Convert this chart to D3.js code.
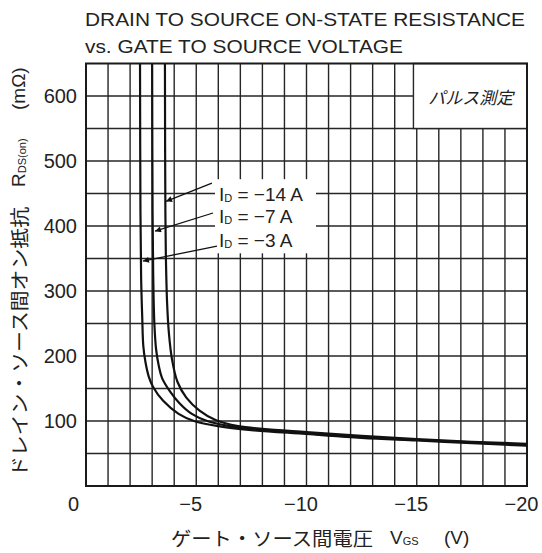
<!DOCTYPE html>
<html>
<head>
<meta charset="utf-8">
<script src="https://d3js.org/d3.v7.min.js"></script>
<style>
  body { margin: 0; background: #fff; }
  text { font-family: "Liberation Sans", Arial, sans-serif; fill: #222; }
  .jp { font-family: "Noto Sans CJK JP", sans-serif; }
</style>
</head>
<body>
<script>
// curves: Vgs (V) and RDS(on) (mOhm)
var vgs3  = [-2.45, -2.47, -2.5, -2.55, -2.6, -2.7, -2.85, -3.05, -3.5, -4.2, -4.9, -6, -7.5, -10, -12.5, -15, -17.5, -20];
var rds3  = [650, 420, 320, 260, 215, 190, 168, 152, 131, 111, 100, 92, 86, 80, 74, 70, 66, 62];
var vgs7  = [-3.0, -3.02, -3.05, -3.1, -3.18, -3.3, -3.45, -3.8, -4.25, -4.8, -5.5, -6.4, -8, -10, -12.5, -15, -17.5, -20];
var rds7  = [650, 420, 320, 250, 210, 185, 166, 146, 127, 111, 100, 93, 87, 81, 75, 71, 67, 63];
var vgs14 = [-3.58, -3.6, -3.63, -3.68, -3.76, -3.9, -4.15, -4.55, -5.15, -5.9, -6.9, -8, -10, -12.5, -15, -17.5, -20];
var rds14 = [650, 420, 340, 280, 235, 195, 160, 136, 116, 101, 92, 88, 83, 77, 72, 68, 65];

// ticks
var xTicks = [0, -5, -10, -15, -20];
var yTicks = [100, 200, 300, 400, 500, 600];

// labels + leader lines (data units)
var idLabels = ["−14 A", "−7 A", "−3 A"];
var labelR   = [449, 415, 378];
var leadFromV = [-5.71, -5.76, -5.94];
var leadFromR = [466, 420, 369];
var tipV = [-3.63, -3.13, -2.58];
var tipR = [438, 392, 346];

var W = 542, H = 553;
var pLeft = 86, pRight = 527, pTop = 63.5, pBottom = 486;

var svg = d3.select("body").append("svg")
  .attr("width", W).attr("height", H);

var x = d3.scaleLinear().domain([0, -20]).range([pLeft, pRight]);
var y = d3.scaleLinear().domain([0, 650]).range([pBottom, pTop]);

// title
svg.append("text").attr("x", 85).attr("y", 26)
  .attr("font-size", 19).attr("textLength", 440).attr("lengthAdjust", "spacingAndGlyphs")
  .text("DRAIN TO SOURCE ON-STATE RESISTANCE");
svg.append("text").attr("x", 85).attr("y", 53)
  .attr("font-size", 19).attr("textLength", 318).attr("lengthAdjust", "spacingAndGlyphs")
  .text("vs. GATE TO SOURCE VOLTAGE");

// grid
var grid = svg.append("g").attr("stroke", "#262626").attr("stroke-width", 1.4);
grid.selectAll(".gv").data(d3.range(-1, -20, -1)).enter().append("line")
  .attr("x1", d => x(d)).attr("x2", d => x(d))
  .attr("y1", y(650)).attr("y2", y(0));
grid.selectAll(".gh").data(d3.range(50, 650, 50)).enter().append("line")
  .attr("x1", x(0)).attr("x2", x(-20))
  .attr("y1", d => y(d)).attr("y2", d => y(d));

// "pulse measurement" box
svg.append("rect")
  .attr("x", x(-14.85)).attr("y", y(650))
  .attr("width", x(-20) - x(-14.85)).attr("height", y(550) - y(650))
  .attr("fill", "#fff").attr("stroke", "#262626").attr("stroke-width", 1.4);
svg.append("text").attr("class", "jp")
  .attr("x", x(-17.45)).attr("y", y(600))
  .attr("text-anchor", "middle").attr("dominant-baseline", "central")
  .attr("font-size", 17).attr("font-style", "italic")
  .text("パルス測定");

// white area behind the ID labels
svg.append("rect")
  .attr("x", x(-5.85)).attr("y", y(472))
  .attr("width", x(-10.43) - x(-5.85)).attr("height", y(358) - y(472))
  .attr("fill", "#fff");

// frame
svg.append("rect")
  .attr("x", pLeft).attr("y", pTop)
  .attr("width", pRight - pLeft).attr("height", pBottom - pTop)
  .attr("fill", "none").attr("stroke", "#1a1a1a").attr("stroke-width", 2);

// curves
svg.append("clipPath").attr("id", "clip").append("rect")
  .attr("x", pLeft).attr("y", pTop).attr("width", pRight - pLeft).attr("height", pBottom - pTop);

var line = d3.line()
  .x(d => x(d[0])).y(d => y(d[1]))
  .curve(d3.curveCatmullRom.alpha(0.5));

[[vgs3, rds3], [vgs7, rds7], [vgs14, rds14]].forEach(function (s) {
  svg.append("path")
    .datum(d3.zip(s[0], s[1]))
    .attr("clip-path", "url(#clip)")
    .attr("fill", "none").attr("stroke", "#111").attr("stroke-width", 2.2)
    .attr("d", line);
});

// leader lines with arrowheads
svg.append("defs").append("marker")
  .attr("id", "arr").attr("viewBox", "0 0 10 10")
  .attr("refX", 10).attr("refY", 5)
  .attr("markerWidth", 9).attr("markerHeight", 6)
  .attr("markerUnits", "userSpaceOnUse")
  .attr("orient", "auto")
  .append("path").attr("d", "M0,0 L10,5 L0,10 Z").attr("fill", "#111");

idLabels.forEach(function (lab, i) {
  svg.append("line")
    .attr("x1", x(leadFromV[i])).attr("y1", y(leadFromR[i]))
    .attr("x2", x(tipV[i])).attr("y2", y(tipR[i]))
    .attr("stroke", "#111").attr("stroke-width", 1.3)
    .attr("marker-end", "url(#arr)");
  var t = svg.append("text")
    .attr("x", x(-6.03)).attr("y", y(labelR[i]))
    .attr("dominant-baseline", "central")
    .attr("font-size", 19);
  t.append("tspan").text("I");
  t.append("tspan").attr("font-size", 11).attr("dy", 4).text("D");
  t.append("tspan").attr("dy", -4).text(" = " + lab);
});

// axes
var xAxis = svg.append("g")
  .attr("transform", "translate(0," + (pBottom + 8) + ")")
  .call(d3.axisBottom(x).tickValues(xTicks).tickSize(0).tickPadding(3)
    .tickFormat(d => d === 0 ? "0" : "−" + (-d)));
xAxis.select(".domain").remove();
xAxis.selectAll("text")
  .attr("font-size", 20).attr("fill", "#222")
  .attr("font-family", "Liberation Sans, Arial, sans-serif")
  .attr("dx", d => d === 0 ? -13 : -6);

var yAxis = svg.append("g")
  .attr("transform", "translate(" + (pLeft - 9) + ",0)")
  .call(d3.axisLeft(y).tickValues(yTicks).tickSize(0).tickPadding(0));
yAxis.select(".domain").remove();
yAxis.selectAll("text")
  .attr("font-size", 20).attr("fill", "#222")
  .attr("font-family", "Liberation Sans, Arial, sans-serif");

// x axis title
var xt = svg.append("text").attr("y", 537).attr("dominant-baseline", "central").attr("font-size", 19);
xt.append("tspan").attr("class", "jp").attr("x", 171)
  .attr("textLength", 202).attr("lengthAdjust", "spacingAndGlyphs")
  .text("ゲート・ソース間電圧");
xt.append("tspan").attr("x", 390).text("V");
xt.append("tspan").attr("font-size", 11).attr("dy", 4).text("GS");
xt.append("tspan").attr("x", 444).attr("dy", -4).text("(V)");

// y axis title (rotated)
var yt = svg.append("text")
  .attr("transform", "translate(18,0) rotate(-90)")
  .attr("dominant-baseline", "central").attr("font-size", 19);
yt.append("tspan").attr("class", "jp").attr("x", -477)
  .attr("textLength", 270).attr("lengthAdjust", "spacingAndGlyphs")
  .text("ドレイン・ソース間オン抵抗");
yt.append("tspan").attr("x", -187).text("R");
yt.append("tspan").attr("font-size", 11).attr("dy", 4).text("DS(on)");
yt.append("tspan").attr("x", -110).attr("dy", -4).text("(mΩ)");
</script>
</body>
</html>
